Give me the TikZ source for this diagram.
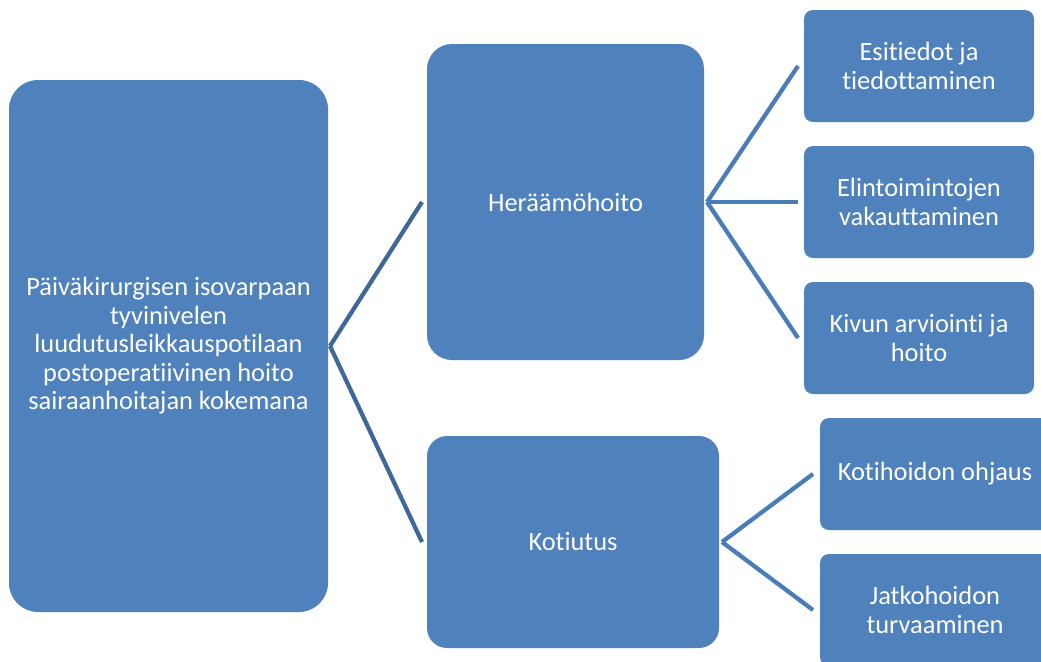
\documentclass[tikz,border=0pt]{standalone}
\usepackage{fontspec}
\setmainfont{Carlito}[Ligatures=NoCommon]
\usetikzlibrary{calc}
\definecolor{boxblue}{HTML}{4F81BD}
\definecolor{linkdark}{HTML}{3F6899}
\definecolor{linklight}{HTML}{4A7CB8}
\tikzset{
	% Rounded boxes of the hierarchy: width, height and corner radius in pixels
	blue box/.style n args={3}{rounded corners=#3*0.75pt,fill=boxblue,text=white,align=center,
		inner sep=0,outer sep=0,minimum width=#1*0.75pt,minimum height=#2*0.75pt},
	link/.style={draw=#1,line width=3.2pt}
}
\begin{document}
\begin{tikzpicture}[x=0.75pt,y=-0.75pt,font=\fontsize{19.8}{21.4}\selectfont]
	\useasboundingbox (0,0) rectangle (1041,661);
	\clip (0,0) rectangle (1041,661);
	
	% first and second level
	\node[blue box={319}{532}{29}] (root) at (168.5,346) {Päiväkirurgisen isovarpaan\\tyvinivelen\\luudutusleikkauspotilaan\\postoperatiivinen hoito\\sairaanhoitajan kokemana};
	\node[blue box={277}{316}{25}] (hera) at (565.5,202) {Heräämöhoito};
	\node[blue box={292}{212}{20}] (koti) at (573,542) {Kotiutus};
	
	% leaves
	\node[blue box={230}{112}{9}] (esi) at (919,66) {Esitiedot ja\\tiedottaminen};
	\node[blue box={230}{112}{9}] (elin) at (919,202) {Elintoimintojen\\vakauttaminen};
	\node[blue box={230}{112}{9}] (kivun) at (919,338) {Kivun arviointi ja\\hoito};
	\node[blue box={230}{112}{9}] (kotih) at (935,474) {Kotihoidon ohjaus};
	\node[blue box={230}{112}{9}] (jatko) at (935,610) {Jatkohoidon\\turvaaminen};
	
	% connectors
	\foreach \kid in {hera,koti}
		\draw[link=linkdark] ($(root.east)+(2,0)$) -- ($(\kid.west)+(-5,0)$);
	\foreach \kid in {esi,elin,kivun}
		\draw[link=linklight] ($(hera.east)+(3,0)$) -- ($(\kid.west)+(-6,0)$);
	\foreach \kid in {kotih,jatko}
		\draw[link=linklight] ($(koti.east)+(3,0)$) -- ($(\kid.west)+(-7,0)$);
\end{tikzpicture}
\end{document}
